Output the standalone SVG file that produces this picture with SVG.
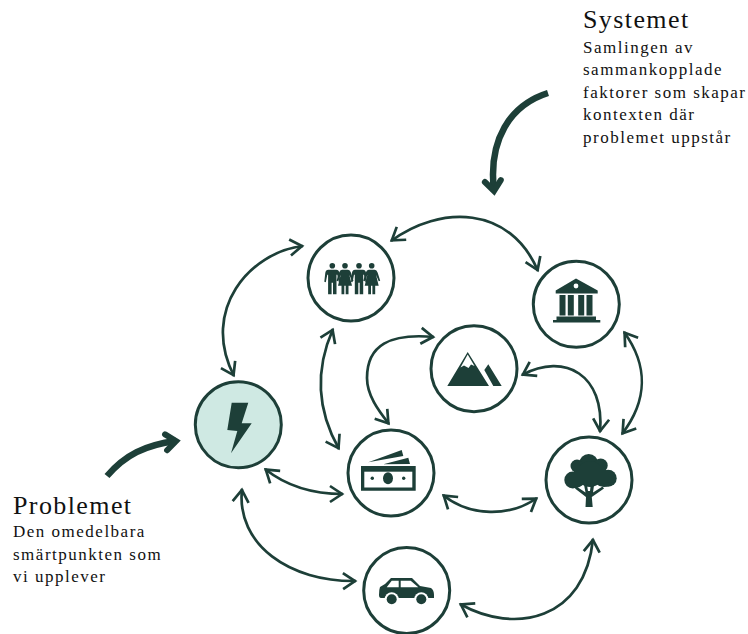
<svg xmlns="http://www.w3.org/2000/svg" width="748" height="634" viewBox="0 0 748 634">
<style>
.c{fill:#fff;stroke:#1d3f38;stroke-width:3}
.i{fill:#1d3f38}
.w{fill:#fff}
.l{fill:none;stroke:#1d3f38;stroke-width:2.7;marker-start:url(#a);marker-end:url(#a)}
.t{fill:none;stroke:#1d3f38;stroke-width:6.5;marker-end:url(#b)}
.h{font-family:"Liberation Serif",serif;font-size:26px;letter-spacing:1.4px;fill:#111}
.p{font-family:"Liberation Serif",serif;font-size:17px;letter-spacing:1.5px;fill:#111}
</style>
<defs>
<marker id="a" markerUnits="userSpaceOnUse" markerWidth="30" markerHeight="30" viewBox="-20 -15 30 30" refX="0" refY="0" orient="auto-start-reverse"><path d="M-13-8L-1 0L-13 8" fill="none" stroke="#1d3f38" stroke-width="2.7"/></marker>
<marker id="b" markerUnits="userSpaceOnUse" markerWidth="40" markerHeight="40" viewBox="-25 -20 40 40" refX="0" refY="0" orient="auto"><path d="M-10-8L0 0L-10 8" fill="none" stroke="#1d3f38" stroke-width="6" stroke-linecap="round"/></marker>
<path id="m" d="M-4 4H4Q6.5 4 7 7L8 16L6.5 16.5L5 9H4.2V28.5H.7V17H-.7V28.5H-4.2V9H-5L-6.5 16.5L-8 16L-7 7Q-6.5 4-4 4Z"/>
<path id="f" d="M-3 4H3Q5 4 6 7L8.5 15L7 15.5L4.3 9L7 20H3.5V28.5H.7V20H-.7V28.5H-3.5V20H-7L-4.3 9L-7 15.5L-8.5 15L-6 7Q-5 4-3 4Z"/>
</defs>
<g id="connectors">
<path class="l" d="M391 241C440 205 510 205 538 271"/>
<path class="l" d="M303 246C250 252 200 310 234 376"/>
<path class="l" d="M333 329C314 372 318 412 339 449"/>
<path class="l" d="M434 337C390 333 367 345 367 378C367 395 378 410 389 424"/>
<path class="l" d="M624 332C648 365 648 400 622 434"/>
<path class="l" d="M522 375C565 352 605 375 600 432"/>
<path class="l" d="M265 469C285 485 310 494 343 494"/>
<path class="l" d="M443 495C470 517 510 517 537 498"/>
<path class="l" d="M242 489C236 545 290 582 356 581"/>
<path class="l" d="M460 604C515 635 585 620 593 539"/>
<path class="t" d="M548 93C510 105 488 140 494 191"/>
<path class="t" d="M107 476C125 455 145 445 176 441"/>
</g>
<g id="people"><circle class="c" cx="351" cy="278" r="43"/>
<g class="i"><circle cx="332.3" cy="265.7" r="2.8"/><circle cx="345" cy="265.7" r="2.8"/><circle cx="359" cy="265.7" r="2.8"/><circle cx="371.7" cy="265.7" r="2.8"/>
<use href="#m" x="332.3" y="265.7"/><use href="#f" x="345" y="265.7"/><use href="#m" x="359" y="265.7"/><use href="#f" x="371.7" y="265.7"/></g></g>
<g id="bank"><circle class="c" cx="576.3" cy="304.3" r="43"/>
<path class="i" d="M576 278.5L597.7 290.5V293.5H555.7V290.5ZM559.5 295H565.5V315.5H559.5ZM567.8 295H573.8V315.5H567.8ZM578.2 295H584.2V315.5H578.2ZM586.5 295H592.5V315.5H586.5ZM556.5 316.5H596V320H600.3V322.6H553V320H556.5Z"/>
<circle class="w" cx="576" cy="286" r="2.4"/></g>
<g id="mountain"><circle class="c" cx="474" cy="368.7" r="43"/>
<path class="i" d="M467.7 352L489 386H447.3ZM488.3 364.3L501.7 386H493.3L484.3 370Z"/>
<path class="w" d="M467.7 354.5L474.5 366L471 364.5L468.5 368L464 365.5L460.5 367.5Z"/></g>
<g id="problem"><circle cx="238.3" cy="424.8" r="43" fill="#cfe9e3" stroke="#1d3f38" stroke-width="3"/>
<path class="i" d="M231.7 402.7H248.3L241.7 423.3H251.7L231 453.3L237.3 431L227.3 430Z"/></g>
<g id="money"><circle class="c" cx="391" cy="473" r="43"/>
<path class="i" d="M368.3 462.3L401.7 450L403.3 456ZM383.3 464.3L408.3 457.7L410 464ZM361 466H415.7V490.7H361Z"/>
<rect class="w" x="364.3" y="471.7" width="48" height="15.8"/>
<g class="i"><ellipse cx="388" cy="478.3" rx="5" ry="6"/><circle cx="372.3" cy="478.3" r="1.7"/><circle cx="403.7" cy="478.3" r="1.7"/></g></g>
<g id="tree"><circle class="c" cx="589" cy="480" r="43"/>
<g class="i"><circle cx="588.7" cy="463.5" r="9.5"/><circle cx="577" cy="466" r="6.5"/><circle cx="600.7" cy="465.5" r="7"/><circle cx="572.8" cy="480" r="8.5"/><circle cx="608.2" cy="478.3" r="8.5"/><circle cx="590" cy="474" r="13"/><rect x="574" y="466" width="32" height="18"/><path d="M566 484Q575 492 584 484ZM596 484Q605 491 614 482Z"/></g>
<path class="i" d="M585.5 507H592.7L591.8 497L604 488.5L602.5 486.5L593 492.5L594.5 482H591L590 491H588L586.5 482H583.5L585.5 492.5L576.5 486.5L575 488.5L586 497Z"/></g>
<g id="car"><circle class="c" cx="406.7" cy="590.5" r="43"/>
<path class="i" d="M379.3 590L380 587L385 584L391 578H412L420 586L431 588Q434 590 434 595V598H428H385H381Q379 598 379 595Z"/>
<path class="w" d="M386.7 587.3L391.7 580.7H398.7V587.3ZM400.7 580.7H410.7L418.3 587.3H400.7Z"/>
<circle class="w" cx="391.7" cy="599.3" r="7"/><circle class="w" cx="421.3" cy="599.3" r="7"/>
<circle class="i" cx="391.7" cy="599.3" r="5"/><circle class="i" cx="421.3" cy="599.3" r="5"/></g>
<g id="labels">
<text class="h" x="583" y="28">Systemet</text>
<text class="p" x="583" y="52.5">Samlingen av</text>
<text class="p" x="583" y="75">sammankopplade</text>
<text class="p" x="583" y="97.5">faktorer som skapar</text>
<text class="p" x="583" y="120">kontexten där</text>
<text class="p" x="583" y="142.5">problemet uppstår</text>
<text class="h" x="13" y="514">Problemet</text>
<text class="p" x="13" y="537">Den omedelbara</text>
<text class="p" x="13" y="560">smärtpunkten som</text>
<text class="p" x="13" y="582">vi upplever</text>
</g>
</svg>
